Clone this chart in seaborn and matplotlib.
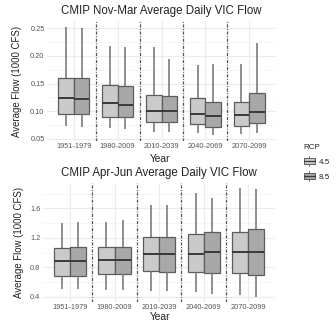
import numpy as np
import pandas as pd
import matplotlib
matplotlib.use("Agg")
import matplotlib.pyplot as plt
from matplotlib.patches import Rectangle, Patch
from matplotlib.lines import Line2D
from matplotlib.legend_handler import HandlerBase
from matplotlib.ticker import MultipleLocator
import seaborn as sns

# Time periods and emission scenarios
periods = ["1951-1979", "1980-2009", "2010-2039", "2040-2069", "2070-2099"]
scenarios = ["4.5", "8.5"]

# Nov-Mar average daily flow (1000 CFS): five-number summaries per period
winter_45_min = [0.073, 0.070, 0.063, 0.060, 0.059]
winter_45_q1 = [0.096, 0.090, 0.081, 0.0765, 0.0735]
winter_45_med = [0.124, 0.115, 0.100, 0.096, 0.093]
winter_45_q3 = [0.160, 0.147, 0.1295, 0.1235, 0.116]
winter_45_max = [0.252, 0.218, 0.216, 0.184, 0.185]

winter_85_min = [0.072, 0.068, 0.062, 0.057, 0.060]
winter_85_q1 = [0.096, 0.089, 0.081, 0.072, 0.079]
winter_85_med = [0.122, 0.112, 0.100, 0.092, 0.098]
winter_85_q3 = [0.160, 0.146, 0.128, 0.1175, 0.133]
winter_85_max = [0.251, 0.216, 0.195, 0.185, 0.223]

# Apr-Jun average daily flow (1000 CFS)
spring_45_min = [0.50, 0.49, 0.48, 0.46, 0.425]
spring_45_q1 = [0.682, 0.705, 0.755, 0.741, 0.720]
spring_45_med = [0.886, 0.900, 0.980, 0.976, 1.003]
spring_45_q3 = [1.067, 1.080, 1.210, 1.250, 1.275]
spring_45_max = [1.405, 1.420, 1.645, 1.810, 1.870]

spring_85_min = [0.50, 0.49, 0.48, 0.44, 0.40]
spring_85_q1 = [0.682, 0.705, 0.741, 0.728, 0.696]
spring_85_med = [0.886, 0.900, 0.976, 1.003, 1.008]
spring_85_q3 = [1.080, 1.080, 1.216, 1.275, 1.315]
spring_85_max = [1.420, 1.440, 1.650, 1.745, 1.860]


def long_table(summaries):
    rows = []
    for rcp, stats in summaries.items():
        for i, period in enumerate(periods):
            for arr in stats:
                rows.append({"Year": period, "RCP": rcp, "Flow": arr[i]})
    return pd.DataFrame(rows)


winter = long_table({
    "4.5": [winter_45_min, winter_45_q1, winter_45_med, winter_45_q3, winter_45_max],
    "8.5": [winter_85_min, winter_85_q1, winter_85_med, winter_85_q3, winter_85_max],
})
spring = long_table({
    "4.5": [spring_45_min, spring_45_q1, spring_45_med, spring_45_q3, spring_45_max],
    "8.5": [spring_85_min, spring_85_q1, spring_85_med, spring_85_q3, spring_85_max],
})

sns.set_theme(style="white")
plt.rcParams["font.family"] = ["Liberation Sans", "DejaVu Sans"]

W, H = 336, 326
fig = plt.figure(figsize=(W / 100, H / 100), dpi=100)

fills = {"4.5": "#cacaca", "8.5": "#a8a8a8"}
edge = "#5c5c5c"
tick_col = "#555555"


def frac(left, top, right, bottom):
    return [left / W, 1 - bottom / H, (right - left) / W, (bottom - top) / H]


def rect_px_center(rect):
    bottom_px = (1 - rect[1]) * H
    top_px = bottom_px - rect[3] * H
    return (top_px + bottom_px) / 2


def panel(rect, data, ylim, major, minor, title, title_xy, ylabel_x, xlabel_y):
    ax = fig.add_axes(rect)
    sns.boxplot(data=data, x="Year", y="Flow", hue="RCP", order=periods,
                hue_order=scenarios, palette=fills, saturation=1,
                whis=(0, 100), width=0.72, gap=0, showcaps=False,
                linecolor=edge, linewidth=0.9,
                whiskerprops={"color": "#707070", "linewidth": 1.1},
                medianprops={"color": "#3a3a3a", "linewidth": 1.4},
                legend=False, ax=ax, zorder=3)
    ax.set_xlim(-0.6, 4.6)
    ax.set_ylim(*ylim)
    ax.yaxis.set_major_locator(MultipleLocator(major))
    ax.yaxis.set_minor_locator(MultipleLocator(minor))
    ax.grid(True, which="major", color="#ebebeb", linewidth=0.8, zorder=0)
    ax.grid(True, which="minor", axis="y", color="#f3f3f3", linewidth=0.5, zorder=0)
    ax.set_axisbelow(True)
    for s in ax.spines.values():
        s.set_visible(False)
    ax.tick_params(axis="both", which="both", length=0, labelsize=5.3,
                   labelcolor=tick_col, pad=2)
    ax.tick_params(axis="x", pad=1.5)
    for xb in [0.5, 1.5, 2.5, 3.5]:
        ax.axvline(xb, color="#555555", linewidth=0.9,
                   linestyle=(0, (2.5, 1.2, 0.8, 1.2)), zorder=4)
    ax.set_xlabel("")
    ax.set_ylabel("")
    fig.text(title_xy[0] / W, 1 - title_xy[1] / H, title, ha="center",
             va="center", fontsize=8.3, color="#222222")
    fig.text(ylabel_x / W, 1 - rect_px_center(rect) / H,
             "Average Flow (1000 CFS)", rotation=90, ha="center",
             va="center", fontsize=6.9, color="#222222")
    fig.text(160 / W, 1 - xlabel_y / H, "Year", ha="center", va="center",
             fontsize=7.4, color="#222222")
    return ax


panel(frac(47.3, 21.1, 275.7, 141.2), winter, (0.046, 0.263), 0.05, 0.025,
      "CMIP Nov-Mar Average Daily VIC Flow", (161.5, 11), 17.5, 159)
panel(frac(43.2, 183, 275.0, 302.2), spring, (0.3265, 1.9435), 0.4, 0.2,
      "CMIP Apr-Jun Average Daily VIC Flow", (159, 173.3), 19, 316.7)


class BoxKey(HandlerBase):
    def create_artists(self, legend, orig_handle, xdescent, ydescent,
                       width, height, fontsize, trans):
        x0, y0 = -xdescent, -ydescent
        fc = orig_handle.get_facecolor()
        box = Rectangle((x0, y0 + 0.15 * height), width, 0.7 * height,
                        facecolor=fc, edgecolor=edge, linewidth=0.7,
                        transform=trans)
        med = Line2D([x0, x0 + width], [y0 + height / 2] * 2, color="#3a3a3a",
                     linewidth=0.9, transform=trans)
        lo = Line2D([x0 + width / 2] * 2, [y0 - 0.1 * height, y0 + 0.15 * height],
                    color="#707070", linewidth=0.7, transform=trans)
        hi = Line2D([x0 + width / 2] * 2, [y0 + 0.85 * height, y0 + 1.1 * height],
                    color="#707070", linewidth=0.7, transform=trans)
        return [lo, hi, box, med]


handles = [Patch(facecolor=fills[s], label=s) for s in scenarios]
leg = fig.legend(handles=handles, labels=scenarios, title="RCP",
                 loc="upper left", bbox_to_anchor=(298 / W, 1 - 138 / H),
                 frameon=False, fontsize=5.8, title_fontsize=5.8,
                 handler_map={Patch: BoxKey()}, handlelength=1.4,
                 handleheight=1.1, handletextpad=0.5, labelspacing=0.8,
                 borderpad=0.2)
leg._legend_box.align = "left"
for t in leg.get_texts():
    t.set_color("#222222")

fig.savefig("out.png", dpi=100)
